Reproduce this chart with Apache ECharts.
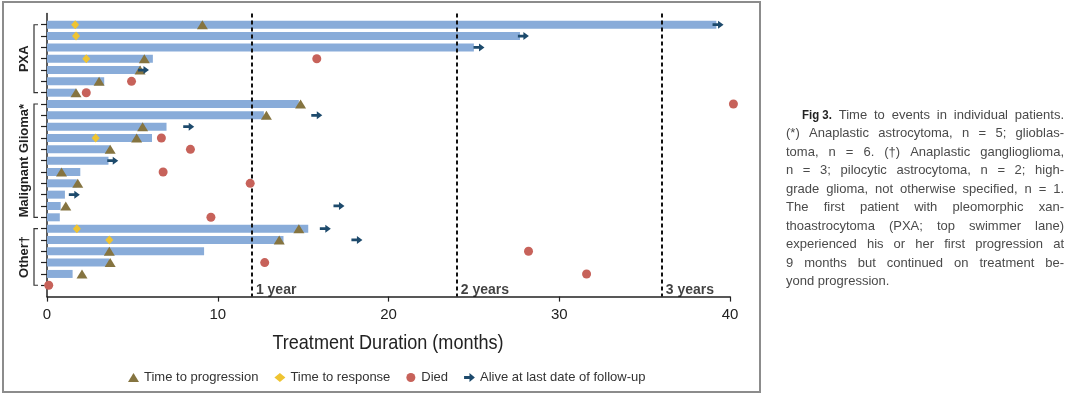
<!DOCTYPE html>
<html>
<head>
<meta charset="utf-8">
<script src="https://cdn.jsdelivr.net/npm/echarts@6/dist/echarts.min.js"></script>
<style>html,body{margin:0;padding:0;background:#fff}#c{width:1080px;height:394px}</style>
</head>
<body>
<div id="c"></div>
<script>
// ---- data (months) ----
// bar end per patient row (row 1 = top)
const barEnds = [39.2, 27.7, 25.0, 6.2, 5.5, 3.35, 1.7,
  14.75, 12.7, 7.0, 6.15, 3.7, 3.6, 1.95, 1.75, 1.05, 0.8, 0.75,
  15.3, 13.85, 9.2, 3.65, 1.5, 0];
// [month, row]
const progression = [[9.1,1],[5.7,4],[5.45,5],[3.05,6],[1.7,7],[14.85,8],[12.85,9],[5.6,10],[5.25,11],[3.7,12],[0.85,14],[1.8,15],[1.1,17],[14.75,19],[13.6,20],[3.65,21],[3.7,22],[2.05,23]];
const response = [[1.65,1],[1.7,2],[2.3,4],[2.85,11],[1.75,19],[3.65,20]];
const died = [[15.8,4],[4.95,6],[2.3,7],[40.2,8],[6.7,11],[8.4,12],[6.8,14],[11.9,15],[9.6,18],[28.2,21],[12.75,22],[31.6,23],[0.1,24]];
const alive = [[39.3,1],[27.9,2],[25.3,3],[5.65,5],[15.8,9],[8.3,10],[3.85,13],[1.6,16],[17.1,17],[16.3,19],[18.15,20]];
const groupNames = ['PXA', 'Malignant Glioma*', 'Other\u2020'];
const groupStart = [1, 8, 19];
const groupEnd = [7, 18, 24];
const yearMonths = [12, 24, 36];
const yearLabels = ['1 year', '2 years', '3 years'];
const xAxisTitle = 'Treatment Duration (months)';
const legendNames = ['Time to progression', 'Time to response', 'Died', 'Alive at last date of follow-up'];
const captionWords = [
  ['Fig 3.', 'Time', 'to', 'events', 'in', 'individual', 'patients.'],
  ['(*)', 'Anaplastic', 'astrocytoma,', 'n', '=', '5;', 'glioblas-'],
  ['toma,', 'n', '=', '6.', '(\u2020)', 'Anaplastic', 'ganglioglioma,'],
  ['n', '=', '3;', 'pilocytic', 'astrocytoma,', 'n', '=', '2;', 'high-'],
  ['grade', 'glioma,', 'not', 'otherwise', 'specified,', 'n', '=', '1.'],
  ['The', 'first', 'patient', 'with', 'pleomorphic', 'xan-'],
  ['thoastrocytoma', '(PXA;', 'top', 'swimmer', 'lane)'],
  ['experienced', 'his', 'or', 'her', 'first', 'progression', 'at'],
  ['9', 'months', 'but', 'continued', 'on', 'treatment', 'be-'],
  ['yond', 'progression.']
];

const rowIds = barEnds.map((v, i) => i + 1);
const barData = barEnds.map((v, i) => [v, rowIds[i]]);
const groupData = groupNames.map((n, i) => [groupStart[i], groupEnd[i], i]);

const ARROW = 'path://M0,3.3 L6,3.3 L6,0 L12,5 L6,10 L6,6.7 L0,6.7 Z';

// ---- caption layout (justified) ----
const cv = document.createElement('canvas').getContext('2d');
const capFamily = '"Liberation Sans", Arial, sans-serif';
const capSize = 13;
const capGraphics = [];
const capLeft = 786, capRight = 1064, capTop = 115, capStep = 18.5;
captionWords.forEach((words, li) => {
  const y = capTop + li * capStep;
  const fonts = words.map((w, wi) => (li === 0 && wi === 0)
    ? 'bold 13px "Liberation Sans", sans-serif'
    : capSize + 'px ' + capFamily);
  const widths = words.map((w, wi) => { cv.font = fonts[wi]; return cv.measureText(w).width * ((li === 0 && wi === 0) ? 0.88 : 1); });
  const left = li === 0 ? 802 : capLeft;
  const total = widths.reduce((a, b) => a + b, 0);
  let gap;
  if (li === captionWords.length - 1) { cv.font = capSize + 'px ' + capFamily; gap = cv.measureText(' ').width; }
  else gap = (capRight - left - total) / (words.length - 1);
  let x = left;
  words.forEach((w, wi) => {
    const bold = li === 0 && wi === 0;
    capGraphics.push({
      type: 'text', x: x, y: y, silent: true, scaleX: bold ? 0.88 : 1,
      style: { text: w, fill: bold ? '#222' : '#4a4a4a', fontSize: capSize,
        fontFamily: capFamily,
        fontWeight: bold ? 'bold' : 'normal', verticalAlign: 'middle', align: 'left' }
    });
    x += widths[wi] + gap;
  });
});

const chart = echarts.init(document.getElementById('c'), null, { renderer: 'canvas' });
const BAR_COLOR = '#89acd9', PROG_COLOR = '#857440', RESP_COLOR = '#efc431', DIED_COLOR = '#c7625a', ALIVE_COLOR = '#1d4a6c';
const GRID = { left: 47, right: 350, top: 13.4, bottom: 97.4 };

chart.setOption({
  backgroundColor: '#fff',
  animation: false,
  grid: GRID,
  xAxis: {
    type: 'value', min: 0, max: 40, interval: 10, position: 'bottom',
    axisLine: { show: true, onZero: false, lineStyle: { color: '#222', width: 1.5 } },
    axisTick: { show: true, length: 5, lineStyle: { color: '#222', width: 1.2 } },
    axisLabel: { color: '#222', fontSize: 15, fontFamily: '"Liberation Sans", sans-serif', margin: 11 },
    splitLine: { show: false }
  },
  yAxis: {
    type: 'value', min: 0, max: 25, inverse: true, position: 'left',
    axisLine: { show: true, onZero: false, lineStyle: { color: '#222', width: 1.5 } },
    axisTick: { show: true, length: 6, customValues: rowIds, lineStyle: { color: '#222', width: 1.2 } },
    axisLabel: { show: false },
    splitLine: { show: false }
  },
  legend: {
    left: 123, top: 366, itemGap: 16, itemWidth: 11, itemHeight: 9,
    data: legendNames,
    textStyle: { color: '#333', fontSize: 13, fontFamily: '"Liberation Sans", Arial, sans-serif' }
  },
  graphic: [
    { type: 'rect', shape: { x: 3, y: 2, width: 757, height: 390 }, style: { fill: 'none', stroke: '#8c8c8c', lineWidth: 2 }, silent: true },
    { type: 'text', x: 388, y: 343, scaleX: 0.86, silent: true,
      style: { text: xAxisTitle, fill: '#222', fontSize: 21, fontFamily: '"Liberation Sans", sans-serif', align: 'center', verticalAlign: 'middle' } }
  ].concat(capGraphics),
  series: [
    {
      type: 'custom', name: 'bars', data: barData, z: 2, clip: false,
      encode: { x: 0, y: 1 },
      renderItem: function (params, api) {
        const end = api.value(0), row = api.value(1);
        if (!(end > 0)) return null;
        const p0 = api.coord([0, row]);
        const p1 = api.coord([end, row]);
        const h = 8;
        return { type: 'rect', shape: { x: p0[0], y: p0[1] - h / 2, width: p1[0] - p0[0], height: h }, style: { fill: BAR_COLOR } };
      }
    },
    {
      type: 'custom', name: 'groups', data: groupData, z: 3, clip: false,
      encode: { y: [0, 1] },
      renderItem: function (params, api) {
        const a = api.coord([0, api.value(0)]);
        const b = api.coord([0, api.value(1)]);
        const bx = a[0] - 13;
        return {
          type: 'group', children: [
            { type: 'polyline', shape: { points: [[bx + 4, a[1]], [bx, a[1]], [bx, b[1]], [bx + 4, b[1]]] }, style: { stroke: '#333', lineWidth: 1.2, fill: 'none' } },
            { type: 'text', x: bx - 10, y: (a[1] + b[1]) / 2, rotation: Math.PI / 2,
              style: { text: groupNames[api.value(2)], fill: '#222', fontSize: 13, fontWeight: 'bold', fontFamily: '"Liberation Sans", Arial, sans-serif', align: 'center', verticalAlign: 'middle' } }
          ]
        };
      }
    },
    {
      type: 'scatter', name: 'Time to progression', data: progression, symbol: 'triangle', symbolSize: [11, 9], z: 5, clip: false,
      itemStyle: { color: PROG_COLOR, opacity: 1 }
    },
    {
      type: 'scatter', name: 'Time to response', data: response, symbol: 'diamond', symbolSize: [8, 9], z: 6, clip: false,
      itemStyle: { color: RESP_COLOR, opacity: 1 }
    },
    {
      type: 'scatter', name: 'Died', data: died, symbol: 'circle', symbolSize: 9, z: 5, clip: false,
      itemStyle: { color: DIED_COLOR, opacity: 1 }
    },
    {
      type: 'scatter', name: 'Alive at last date of follow-up', data: alive, symbol: ARROW, symbolSize: [11, 8], z: 5, clip: false,
      itemStyle: { color: ALIVE_COLOR, opacity: 1 }
    },
    {
      type: 'scatter', name: 'yearLabels', data: yearMonths.map((m, i) => [m, 24.4, i]), symbolSize: 0, z: 7, clip: false,
      label: { show: true, position: 'right', distance: 4, formatter: p => yearLabels[p.data[2]], color: '#111', fontSize: 14, fontWeight: 'bold', fontFamily: '"Liberation Sans", Arial, sans-serif' },
      markLine: {
        silent: true, symbol: 'none', label: { show: false },
        lineStyle: { color: '#111', width: 2, type: [4, 3] },
        data: yearMonths.map(m => ({ xAxis: m }))
      }
    }
  ]
});
</script>
</body>
</html>
